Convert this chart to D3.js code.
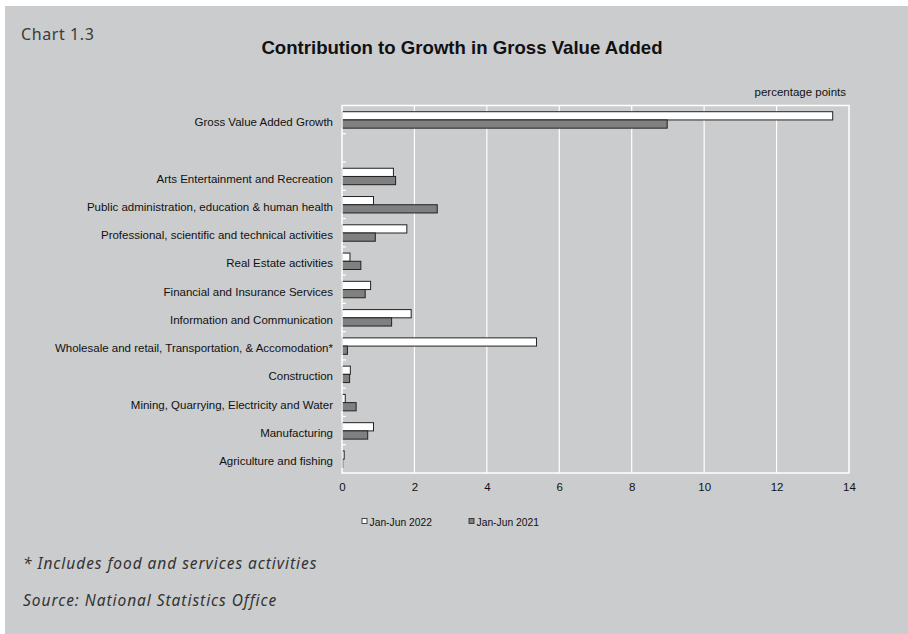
<!DOCTYPE html>
<html><head><meta charset="utf-8">
<script src="https://cdn.jsdelivr.net/npm/d3@7"></script>
<style>html,body{margin:0;padding:0;background:#fff;}svg{display:block;}</style>
</head><body><svg id="c" width="908" height="634"></svg>
<script>
const categories = ["Gross Value Added Growth","","Arts Entertainment and Recreation","Public administration, education & human health","Professional, scientific and technical activities","Real Estate activities","Financial and Insurance Services","Information and Communication","Wholesale and retail, Transportation, & Accomodation*","Construction","Mining, Quarrying, Electricity and Water","Manufacturing","Agriculture and fishing"];
const seriesNames = ["Jan-Jun 2022","Jan-Jun 2021"];
const values2022 = [13.55,null,1.42,0.87,1.79,0.22,0.79,1.91,5.37,0.23,0.09,0.87,0.06];
const values2021 = [8.98,null,1.48,2.63,0.92,0.52,0.64,1.37,0.15,0.21,0.39,0.71,0.02];
const xTicks = [0,2,4,6,8,10,12,14];

const AR = "'Liberation Sans', Arial, Helvetica, sans-serif";
const svg = d3.select("#c");
svg.append("rect").attr("x",5).attr("y",6).attr("width",903).attr("height",628).attr("fill","#cbcccd");

const L=342,R=849,T=105.5,B=473;
const x = d3.scaleLinear().domain([0,14]).range([L,R]);
const y = d3.scaleBand().domain(d3.range(categories.length)).range([T,B]);
const sub = d3.scaleBand().domain([0,1]).range([0,y.bandwidth()]).paddingOuter(0.72).paddingInner(0);

// gridlines
svg.append("g").selectAll("line").data(xTicks.slice(1,-1)).join("line")
  .attr("x1",d=>x(d)).attr("x2",d=>x(d)).attr("y1",T).attr("y2",B)
  .attr("stroke","#fff").attr("stroke-width",1.2);

// bars
const series=[values2022,values2021], fills=["#ffffff","#808080"];
series.forEach((vals,si)=>{
  svg.append("g").selectAll("rect").data(vals.map((v,i)=>({v,i})).filter(d=>d.v!=null)).join("rect")
    .attr("x",x(0)).attr("y",d=>y(d.i)+sub(si)+0.3)
    .attr("width",d=>x(d.v)-x(0)).attr("height",sub.bandwidth())
    .attr("fill",fills[si]).attr("stroke","#222").attr("stroke-width",1);
});

// plot border
svg.append("rect").attr("x",L).attr("y",T).attr("width",R-L).attr("height",B-T)
  .attr("fill","none").attr("stroke","#fff").attr("stroke-width",1.5);

// category tick marks
svg.append("g").selectAll("line").data(d3.range(1,categories.length)).join("line")
  .attr("x1",L).attr("x2",L+4).attr("y1",d=>y(d)).attr("y2",d=>y(d))
  .attr("stroke","#fff").attr("stroke-width",1.2);

// x axis labels
const xa = svg.append("g").attr("transform",`translate(0,${B})`)
  .call(d3.axisBottom(x).tickValues(xTicks).tickSize(0).tickPadding(10).tickFormat(d3.format("d")));
xa.select(".domain").remove();
xa.selectAll("text").attr("font-family",AR).attr("font-size",11.5).attr("fill","#111");

// y labels
const ya = svg.append("g").attr("transform",`translate(${L},0)`)
  .call(d3.axisLeft(y).tickFormat(i=>categories[i]).tickSize(0).tickPadding(9));
ya.select(".domain").remove();
ya.selectAll("text").attr("font-family",AR).attr("font-size",11.5).attr("fill","#111")
  .attr("dy","0.55em");

// title
svg.append("text").attr("x",462).attr("y",53.5).attr("text-anchor","middle")
  .attr("font-family",AR).attr("font-weight","bold").attr("font-size",18.6).attr("fill","#111")
  .text("Contribution to Growth in Gross Value Added");
svg.append("text").attr("x",21).attr("y",40)
  .attr("font-family","'Noto Sans', 'Open Sans', sans-serif").attr("font-size",16).attr("letter-spacing",0.6).attr("fill","#3a3a3a")
  .text("Chart 1.3");
svg.append("text").attr("x",846).attr("y",96).attr("text-anchor","end")
  .attr("font-family",AR).attr("font-size",11.5).attr("fill","#111")
  .text("percentage points");

// legend
const lg = svg.append("g");
const lx=[362,469];
seriesNames.forEach((n,i)=>{
  lg.append("rect").attr("x",lx[i]).attr("y",518.5).attr("width",5).attr("height",5)
    .attr("fill",fills[i]).attr("stroke","#222").attr("stroke-width",0.8);
  lg.append("text").attr("x",lx[i]+7.5).attr("y",525.5).attr("font-family",AR)
    .attr("font-size",10.3).attr("fill","#111").text(n);
});

// footnotes
const fn = ["* Includes food and services activities","Source: National Statistics Office"];
svg.append("g").selectAll("text").data(fn).join("text")
  .attr("x",23).attr("y",(d,i)=>569+i*37)
  .attr("font-family","'Noto Sans', 'Open Sans', sans-serif").attr("font-style","italic").attr("font-size",15.5)
  .attr("letter-spacing",0.95).attr("fill","#333")
  .text(d=>d);
</script></body></html>
